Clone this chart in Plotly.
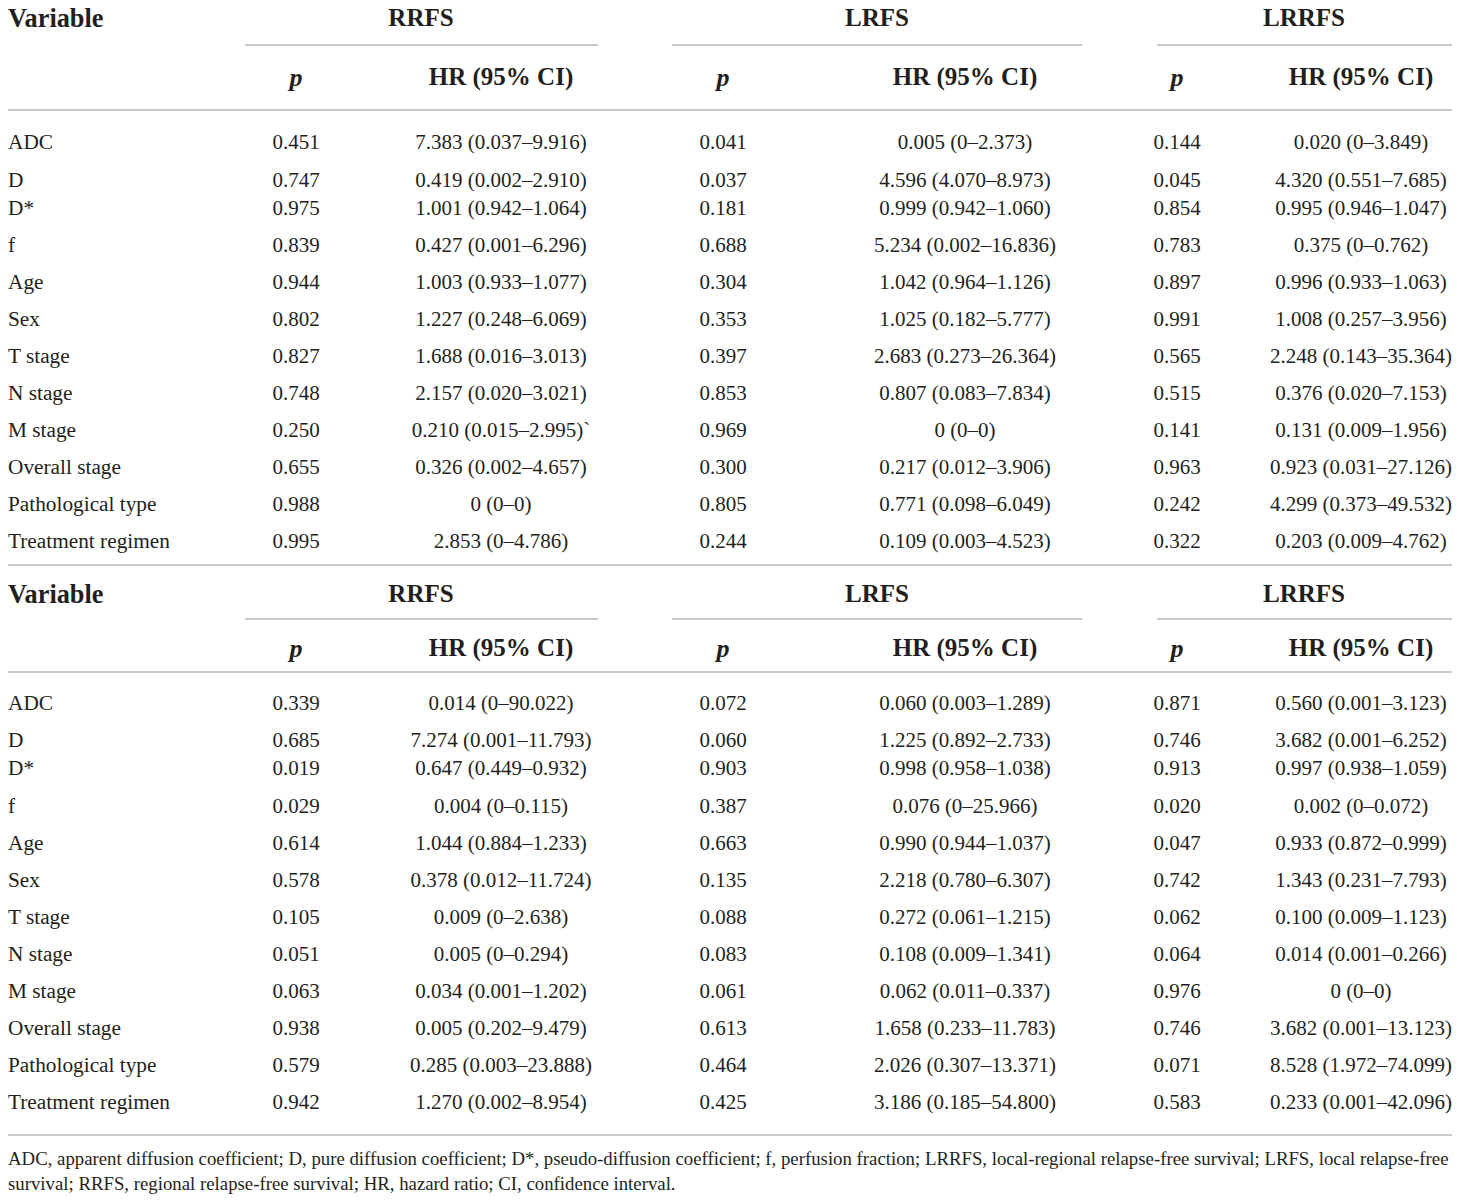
import plotly.graph_objects as go

# table contents
variables = ["ADC", "D", "D*", "f", "Age", "Sex", "T stage", "N stage",
             "M stage", "Overall stage", "Pathological type", "Treatment regimen"]
outcomes = ["RRFS", "LRFS", "LRRFS"]

# upper block
rrfs_p_1 = [0.451, 0.747, 0.975, 0.839, 0.944, 0.802, 0.827, 0.748, 0.250, 0.655, 0.988, 0.995]
rrfs_hr_1 = ["7.383 (0.037–9.916)", "0.419 (0.002–2.910)", "1.001 (0.942–1.064)",
             "0.427 (0.001–6.296)", "1.003 (0.933–1.077)", "1.227 (0.248–6.069)",
             "1.688 (0.016–3.013)", "2.157 (0.020–3.021)", "0.210 (0.015–2.995)`",
             "0.326 (0.002–4.657)", "0 (0–0)", "2.853 (0–4.786)"]
lrfs_p_1 = [0.041, 0.037, 0.181, 0.688, 0.304, 0.353, 0.397, 0.853, 0.969, 0.300, 0.805, 0.244]
lrfs_hr_1 = ["0.005 (0–2.373)", "4.596 (4.070–8.973)", "0.999 (0.942–1.060)",
             "5.234 (0.002–16.836)", "1.042 (0.964–1.126)", "1.025 (0.182–5.777)",
             "2.683 (0.273–26.364)", "0.807 (0.083–7.834)", "0 (0–0)",
             "0.217 (0.012–3.906)", "0.771 (0.098–6.049)", "0.109 (0.003–4.523)"]
lrrfs_p_1 = [0.144, 0.045, 0.854, 0.783, 0.897, 0.991, 0.565, 0.515, 0.141, 0.963, 0.242, 0.322]
lrrfs_hr_1 = ["0.020 (0–3.849)", "4.320 (0.551–7.685)", "0.995 (0.946–1.047)",
              "0.375 (0–0.762)", "0.996 (0.933–1.063)", "1.008 (0.257–3.956)",
              "2.248 (0.143–35.364)", "0.376 (0.020–7.153)", "0.131 (0.009–1.956)",
              "0.923 (0.031–27.126)", "4.299 (0.373–49.532)", "0.203 (0.009–4.762)"]

# lower block
rrfs_p_2 = [0.339, 0.685, 0.019, 0.029, 0.614, 0.578, 0.105, 0.051, 0.063, 0.938, 0.579, 0.942]
rrfs_hr_2 = ["0.014 (0–90.022)", "7.274 (0.001–11.793)", "0.647 (0.449–0.932)",
             "0.004 (0–0.115)", "1.044 (0.884–1.233)", "0.378 (0.012–11.724)",
             "0.009 (0–2.638)", "0.005 (0–0.294)", "0.034 (0.001–1.202)",
             "0.005 (0.202–9.479)", "0.285 (0.003–23.888)", "1.270 (0.002–8.954)"]
lrfs_p_2 = [0.072, 0.060, 0.903, 0.387, 0.663, 0.135, 0.088, 0.083, 0.061, 0.613, 0.464, 0.425]
lrfs_hr_2 = ["0.060 (0.003–1.289)", "1.225 (0.892–2.733)", "0.998 (0.958–1.038)",
             "0.076 (0–25.966)", "0.990 (0.944–1.037)", "2.218 (0.780–6.307)",
             "0.272 (0.061–1.215)", "0.108 (0.009–1.341)", "0.062 (0.011–0.337)",
             "1.658 (0.233–11.783)", "2.026 (0.307–13.371)", "3.186 (0.185–54.800)"]
lrrfs_p_2 = [0.871, 0.746, 0.913, 0.020, 0.047, 0.742, 0.062, 0.064, 0.976, 0.746, 0.071, 0.583]
lrrfs_hr_2 = ["0.560 (0.001–3.123)", "3.682 (0.001–6.252)", "0.997 (0.938–1.059)",
              "0.002 (0–0.072)", "0.933 (0.872–0.999)", "1.343 (0.231–7.793)",
              "0.100 (0.009–1.123)", "0.014 (0.001–0.266)", "0 (0–0)",
              "3.682 (0.001–13.123)", "8.528 (1.972–74.099)", "0.233 (0.001–42.096)"]

footnote = ["ADC, apparent diffusion coefficient; D, pure diffusion coefficient; D*, pseudo-diffusion "
            "coefficient; f, perfusion fraction; LRRFS, local-regional relapse-free survival; LRFS, local relapse-free",
            "survival; RRFS, regional relapse-free survival; HR, hazard ratio; CI, confidence interval."]

# layout in page pixels
W, H = 1460, 1201
DY = 2  # text sits a little high when middle-anchored
FONT = "Liberation Serif"
INK = "#231f20"
RULE = "#c9c9c9"
x_var = 8
x_p = [296, 723, 1177]
x_hr = [501, 965, 1361]
x_grp = [421, 877, 1304]
underline = [(245, 598), (672, 1082), (1157, 1452)]

blocks = [
    dict(top=None, group_y=18, under_y=45, sub_y=77, head_line=110,
         rows=[142, 180, 208, 245, 282, 319, 356, 393, 430, 467, 504, 541],
         p=[rrfs_p_1, lrfs_p_1, lrrfs_p_1], hr=[rrfs_hr_1, lrfs_hr_1, lrrfs_hr_1]),
    dict(top=565, group_y=594, under_y=619, sub_y=648, head_line=672,
         rows=[703, 740, 768, 806, 843, 880, 917, 954, 991, 1028, 1065, 1102],
         p=[rrfs_p_2, lrfs_p_2, lrrfs_p_2], hr=[rrfs_hr_2, lrfs_hr_2, lrrfs_hr_2]),
]

fig = go.Figure()
shapes = []


def add_text(xs, ys, texts, size, pos="middle center", bold=False):
    fig.add_trace(go.Scatter(
        x=xs, y=[y + DY for y in ys], text=texts, mode="text", textposition=pos,
        textfont=dict(family=FONT, size=size, color=INK, weight="bold" if bold else "normal"),
        cliponaxis=False, hoverinfo="skip", showlegend=False))


def hline(x0, x1, y):
    shapes.append(dict(type="line", xref="x", yref="y", x0=x0, x1=x1, y0=y, y1=y,
                       line=dict(color=RULE, width=2)))


for b in blocks:
    if b["top"] is not None:
        hline(8, 1452, b["top"])
    # header
    add_text([x_var], [b["group_y"]], ["Variable"], 26.3, "middle right", bold=True)
    add_text(x_grp, [b["group_y"]] * 3, outcomes, 25, bold=True)
    for (u0, u1) in underline:
        hline(u0, u1, b["under_y"])
    add_text(x_p, [b["sub_y"]] * 3, ["<i>p</i>"] * 3, 26, bold=True)
    add_text(x_hr, [b["sub_y"]] * 3, ["HR (95% CI)"] * 3, 25, bold=True)
    hline(8, 1452, b["head_line"])
    # body
    add_text([x_var] * len(variables), b["rows"], variables, 21.3, "middle right")
    for k in range(3):
        add_text([x_p[k]] * len(variables), b["rows"], [f"{v:.3f}" for v in b["p"][k]], 21)
        add_text([x_hr[k]] * len(variables), b["rows"], b["hr"][k], 21)

hline(8, 1452, 1135)
add_text([x_var] * 2, [1158, 1183], footnote, 18.8, "middle right")

fig.update_layout(
    width=W, height=H,
    margin=dict(l=0, r=0, t=0, b=0),
    paper_bgcolor="white", plot_bgcolor="white",
    xaxis=dict(range=[0, W], visible=False, fixedrange=True),
    yaxis=dict(range=[H, 0], visible=False, fixedrange=True),
    shapes=shapes,
)

# drop the browser's default body margin so the figure fills the page
fig.write_html("out.html", config={"displayModeBar": False},
               post_script="document.body.style.margin='0';")
